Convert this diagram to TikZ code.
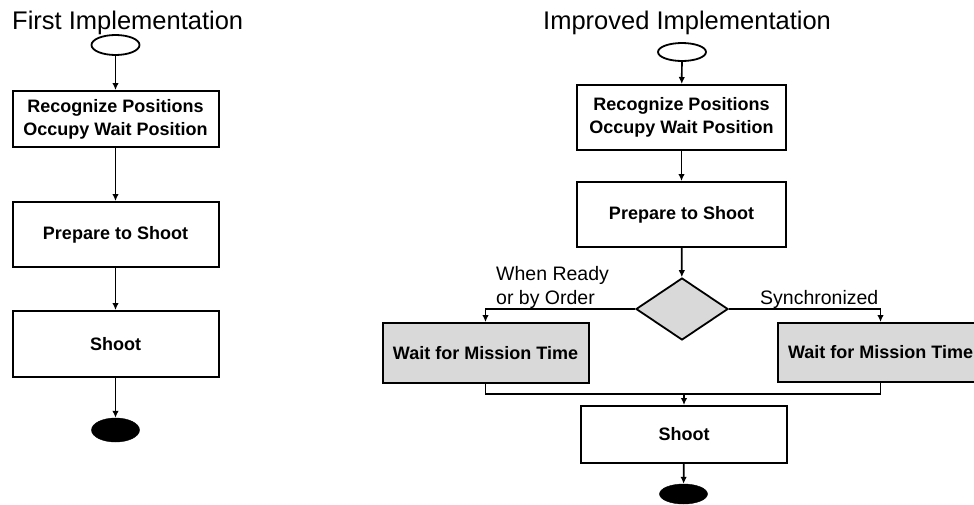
\documentclass[tikz,border=0pt]{standalone}
\usepackage{fontspec}
\setmainfont{Liberation Sans}
\usetikzlibrary{shapes.geometric,arrows.meta}
\definecolor{boxgray}{RGB}{217,217,217}
\begin{document}
\begin{tikzpicture}[x=1pt,y=1pt,
  box/.style={draw,line width=2pt,minimum width=206pt,minimum height=65pt,inner sep=0pt,align=center,font=\fontsize{18}{23}\selectfont\bfseries},
  graybox/.style={box,fill=boxgray},
  startnode/.style={ellipse,draw,line width=1.8pt,minimum width=48pt,minimum height=20pt,inner sep=0pt},
  endnode/.style={ellipse,draw,fill=black,minimum width=48pt,minimum height=22pt,inner sep=0pt},
  decision/.style={diamond,draw,line width=1.8pt,fill=boxgray,minimum width=92pt,minimum height=62pt,inner sep=0pt},
  flow/.style={line width=1.7pt,-{Latex[length=7pt,width=6.5pt]}},
  plain/.style={line width=1.7pt},
  title/.style={anchor=base west,inner sep=0pt,font=\fontsize{25.5}{30}\selectfont},
  lbl/.style={anchor=north west,inner sep=0pt,align=left,font=\fontsize{19.5}{24}\selectfont}]
\clip (0,0) rectangle (974,-504);

% ---- First implementation ----
\node[title] (t1) at (12,-29.5) {First Implementation};
\node[startnode] (s1) at (115.5,-45) {};
\node[box,minimum height=56pt] (a1) at (115.5,-119) {Recognize Positions\\Occupy Wait Position};
\node[box] (a2) at (115.5,-234.5) {Prepare to Shoot};
\node[box,minimum height=66pt] (a3) at (115.5,-344) {Shoot};
\node[endnode,minimum height=24pt] (e1) at (115.5,-430) {};
\draw[flow] (s1) -- (a1);
\draw[flow] (a1) -- (a2);
\draw[flow] (a2) -- (a3);
\draw[flow] (a3) -- (e1);

% ---- Improved implementation ----
\node[title] (t2) at (543,-29.5) {Improved Implementation};
\node[startnode,minimum height=18pt] (s2) at (682,-52) {};
\node[box,minimum width=209pt] (b1) at (681.5,-117.5) {Recognize Positions\\Occupy Wait Position};
\node[box,minimum width=209pt] (b2) at (681.5,-214.5) {Prepare to Shoot};
\node[decision] (d) at (682,-309) {};
\node[graybox,minimum height=60pt] (wl) at (485.5,-353) {Wait for Mission Time};
\node[graybox,minimum height=59pt] (wr) at (880.5,-352.5) {Wait for Mission Time};
\node[box,minimum height=57pt] (sh) at (684,-434.5) {Shoot};
\node[endnode,minimum height=20pt] (e2) at (683.5,-494) {};
\coordinate (m) at (684,-394);

\node[lbl] (l1) at (496,-266) {When Ready\\or by Order};
\node[lbl,anchor=base west] (l2) at (760,-304) {Synchronized};

\draw[flow] (s2) -- (b1);
\draw[flow] (b1) -- (b2);
\draw[flow] (b2) -- (d);
\draw[flow] (d.west) -| (wl.north);
\draw[flow] (d.east) -| (wr.north);
\draw[plain] (wl.south) |- (m) -| (wr.south);
\draw[flow] (m) -- (sh.north);
\draw[flow] (sh) -- (e2);
\end{tikzpicture}
\end{document}
